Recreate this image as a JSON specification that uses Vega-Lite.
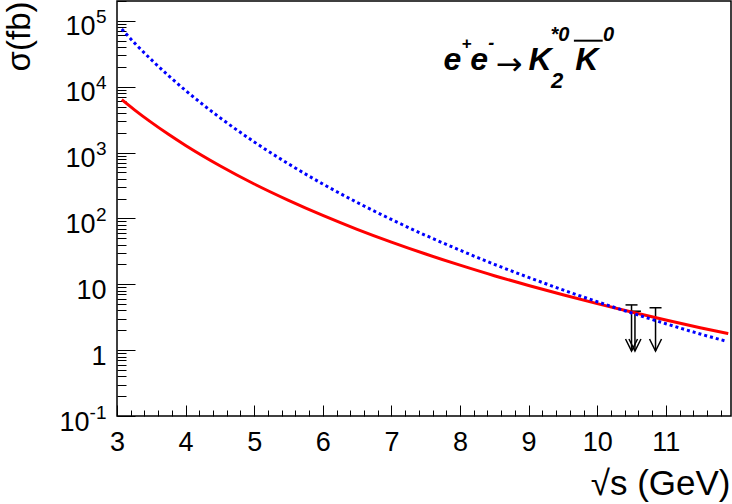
{
  "$schema": "https://vega.github.io/schema/vega-lite/v6.json",
  "width": 614,
  "height": 415,
  "autosize": {"type": "none"},
  "padding": {"left": 117, "top": 1, "right": 1, "bottom": 88},
  "background": "white",
  "config": {
    "view": {"stroke": "#000", "strokeWidth": 1.5},
    "font": "Liberation Sans",
    "axis": {"grid": false, "domain": false, "labelFont": "Liberation Sans", "titleFont": "Liberation Sans", "labelColor": "#000", "titleColor": "#000", "tickColor": "#000", "tickWidth": 1, "labelOverlap": false, "labelFlush": false, "labelBound": false, "zindex": 1, "titleFontWeight": "normal"}
  },
  "datasets": {
    "modelA": [
      {"E": 3.07, "sigma": 6350}, {"E": 3.25, "sigma": 4490}, {"E": 3.5, "sigma": 2870}, {"E": 3.75, "sigma": 1890},
      {"E": 4.0, "sigma": 1280}, {"E": 4.5, "sigma": 630}, {"E": 5.0, "sigma": 333}, {"E": 5.5, "sigma": 188},
      {"E": 6.0, "sigma": 111}, {"E": 6.5, "sigma": 68.4}, {"E": 7.0, "sigma": 43.7}, {"E": 7.5, "sigma": 28.8},
      {"E": 8.0, "sigma": 19.5}, {"E": 8.5, "sigma": 13.5}, {"E": 9.0, "sigma": 9.6}, {"E": 9.5, "sigma": 6.93},
      {"E": 10.0, "sigma": 5.09}, {"E": 10.5, "sigma": 3.79}, {"E": 11.0, "sigma": 2.86}, {"E": 11.5, "sigma": 2.19},
      {"E": 11.91, "sigma": 1.78}
    ],
    "modelB": [
      {"E": 3.07, "sigma": 75000}, {"E": 3.25, "sigma": 46700}, {"E": 3.5, "sigma": 25700}, {"E": 3.75, "sigma": 14700},
      {"E": 4.0, "sigma": 8750}, {"E": 4.5, "sigma": 3390}, {"E": 5.0, "sigma": 1450}, {"E": 5.5, "sigma": 673},
      {"E": 6.0, "sigma": 333}, {"E": 6.5, "sigma": 175}, {"E": 7.0, "sigma": 96.4}, {"E": 7.5, "sigma": 55.2},
      {"E": 8.0, "sigma": 32.9}, {"E": 8.5, "sigma": 20.1}, {"E": 9.0, "sigma": 12.7}, {"E": 9.5, "sigma": 8.22},
      {"E": 10.0, "sigma": 5.43}, {"E": 10.5, "sigma": 3.67}, {"E": 11.0, "sigma": 2.52}, {"E": 11.5, "sigma": 1.76},
      {"E": 11.89, "sigma": 1.36}
    ],
    "limits": [
      {"E": 10.5, "ul": 4.86, "low": 0.97},
      {"E": 10.55, "ul": 3.9, "low": 0.97},
      {"E": 10.85, "ul": 4.4, "low": 0.97}
    ],
    "one": [{}]
  },
  "layer": [
    {
      "data": {"name": "limits"},
      "mark": {"type": "rule", "color": "#000", "strokeWidth": 1.5},
      "encoding": {
        "x": {"field": "E", "type": "quantitative", "scale": {"domain": [3, 11.95], "nice": false, "zero": false},
          "axis": {"orient": "bottom", "labels": false, "tickSize": -6, "title": null,
            "values": [3.2,3.4,3.6,3.8,4.2,4.4,4.6,4.8,5.2,5.4,5.6,5.8,6.2,6.4,6.6,6.8,7.2,7.4,7.6,7.8,8.2,8.4,8.6,8.8,9.2,9.4,9.6,9.8,10.2,10.4,10.6,10.8,11.2,11.4,11.6,11.8]}},
        "y": {"field": "ul", "type": "quantitative", "scale": {"type": "log", "domain": [0.1, 200000], "nice": false},
          "axis": {"orient": "left", "values": [0.1], "ticks": false, "labelExpr": "'10'", "labelFontSize": 27, "labelPadding": 28, "labelOffset": 14, "labelBaseline": "alphabetic", "labelAlign": "right", "title": null}},
        "y2": {"field": "low"}
      }
    },
    {
      "data": {"name": "limits"},
      "mark": {"type": "tick", "orient": "horizontal", "color": "#000", "size": 12, "thickness": 1.5, "opacity": 1},
      "encoding": {
        "x": {"field": "E", "type": "quantitative", "scale": {"domain": [3, 11.95], "nice": false, "zero": false}, "axis": null},
        "y": {"field": "ul", "type": "quantitative", "scale": {"type": "log", "domain": [0.1, 200000], "nice": false},
          "axis": {"orient": "left", "values": [0.1, 100, 1000, 10000, 100000], "ticks": false,
            "labelExpr": "datum.value < 1 ? '-1' : datum.value < 500 ? '2' : datum.value < 5000 ? '3' : datum.value < 50000 ? '4' : '5'",
            "labelFontSize": 19, "labelPadding": 11, "labelOffset": 2, "labelBaseline": "alphabetic", "labelAlign": "right", "title": null}}
      }
    },
    {
      "data": {"name": "limits"},
      "mark": {"type": "point", "shape": "M-1,-2L0,0L1,-2", "size": 144, "filled": false, "stroke": "#000", "strokeWidth": 1.5, "opacity": 1},
      "encoding": {
        "x": {"field": "E", "type": "quantitative", "scale": {"domain": [3, 11.95], "nice": false, "zero": false}, "axis": null},
        "y": {"field": "low", "type": "quantitative", "scale": {"type": "log", "domain": [0.1, 200000], "nice": false},
          "axis": {"orient": "left", "labels": false, "tickSize": -18, "title": null, "values": [0.1, 1, 10, 100, 1000, 10000, 100000]}}
      }
    },
    {
      "data": {"name": "modelA"},
      "mark": {"type": "line", "color": "#ff0000", "strokeWidth": 3, "interpolate": "monotone"},
      "encoding": {
        "x": {"field": "E", "type": "quantitative", "scale": {"domain": [3, 11.95], "nice": false, "zero": false},
          "axis": {"orient": "bottom", "values": [3, 4, 5, 6, 7, 8, 9, 10, 11], "format": "d", "ticks": false, "labelFontSize": 27, "labelPadding": 34, "labelBaseline": "alphabetic", "labelAlign": "center",
            "title": "√s (GeV)", "titleFontSize": 35, "titleX": 613, "titleY": 78, "titleAlign": "right", "titleBaseline": "alphabetic"}},
        "y": {"field": "sigma", "type": "quantitative", "scale": {"type": "log", "domain": [0.1, 200000], "nice": false},
          "axis": {"orient": "left", "values": [1, 10], "format": "d", "ticks": false, "labelFontSize": 27, "labelPadding": 11, "labelOffset": 14, "labelBaseline": "alphabetic", "labelAlign": "right",
            "title": "σ(fb)", "titleFontSize": 33, "titleAngle": -90, "titleX": -88, "titleY": 0, "titleAlign": "right", "titleBaseline": "alphabetic"}}
      }
    },
    {
      "data": {"name": "modelB"},
      "mark": {"type": "line", "color": "#0000ff", "strokeWidth": 3, "strokeDash": [3, 3], "strokeCap": "butt", "interpolate": "monotone"},
      "encoding": {
        "x": {"field": "E", "type": "quantitative", "scale": {"domain": [3, 11.95], "nice": false, "zero": false},
          "axis": {"orient": "bottom", "values": [3, 4, 5, 6, 7, 8, 9, 10, 11], "labels": false, "tickSize": -11, "title": null}},
        "y": {"field": "sigma", "type": "quantitative", "scale": {"type": "log", "domain": [0.1, 200000], "nice": false},
          "axis": {"orient": "left", "values": [100, 1000, 10000, 100000], "ticks": false, "labelExpr": "'10'", "labelFontSize": 27, "labelPadding": 22, "labelOffset": 14, "labelBaseline": "alphabetic", "labelAlign": "right", "title": null}}
      }
    },
    {
      "data": {"name": "one"},
      "mark": {"type": "rule", "color": "#000", "strokeWidth": 2},
      "encoding": {
        "x": {"datum": 9.66, "type": "quantitative", "scale": {"domain": [3, 11.95], "nice": false, "zero": false}, "axis": null},
        "x2": {"datum": 10.08},
        "y": {"datum": 49940, "type": "quantitative", "scale": {"type": "log", "domain": [0.1, 200000], "nice": false},
          "axis": {"orient": "left", "labels": false, "tickSize": -9, "title": null,
            "values": [0.2,0.3,0.4,0.5,0.6,0.7,0.8,0.9,2,3,4,5,6,7,8,9,20,30,40,50,60,70,80,90,200,300,400,500,600,700,800,900,2000,3000,4000,5000,6000,7000,8000,9000,20000,30000,40000,50000,60000,70000,80000,90000,200000]}}
      }
    },
    {
      "data": {"name": "one"},
      "mark": {"type": "text", "text": "e", "font": "Liberation Sans", "fontSize": 32, "fontWeight": "bold", "fontStyle": "italic", "align": "left", "baseline": "alphabetic", "color": "#000"},
      "encoding": {
        "x": {"datum": 7.76, "type": "quantitative", "scale": {"domain": [3, 11.95], "nice": false, "zero": false}, "axis": null},
        "y": {"datum": 17900, "type": "quantitative", "scale": {"type": "log", "domain": [0.1, 200000], "nice": false}, "axis": null}
      }
    },
    {
      "data": {"name": "one"},
      "mark": {"type": "text", "text": "+", "font": "Liberation Sans", "fontSize": 17, "fontWeight": "bold", "fontStyle": "italic", "align": "left", "baseline": "alphabetic", "color": "#000"},
      "encoding": {
        "x": {"datum": 8.02, "type": "quantitative", "scale": {"domain": [3, 11.95], "nice": false, "zero": false}, "axis": null},
        "y": {"datum": 36700, "type": "quantitative", "scale": {"type": "log", "domain": [0.1, 200000], "nice": false}, "axis": null}
      }
    },
    {
      "data": {"name": "one"},
      "mark": {"type": "text", "text": "e", "font": "Liberation Sans", "fontSize": 32, "fontWeight": "bold", "fontStyle": "italic", "align": "left", "baseline": "alphabetic", "color": "#000"},
      "encoding": {
        "x": {"datum": 8.15, "type": "quantitative", "scale": {"domain": [3, 11.95], "nice": false, "zero": false}, "axis": null},
        "y": {"datum": 17900, "type": "quantitative", "scale": {"type": "log", "domain": [0.1, 200000], "nice": false}, "axis": null}
      }
    },
    {
      "data": {"name": "one"},
      "mark": {"type": "text", "text": "-", "font": "Liberation Sans", "fontSize": 18, "fontWeight": "bold", "fontStyle": "italic", "align": "left", "baseline": "alphabetic", "color": "#000"},
      "encoding": {
        "x": {"datum": 8.41, "type": "quantitative", "scale": {"domain": [3, 11.95], "nice": false, "zero": false}, "axis": null},
        "y": {"datum": 36700, "type": "quantitative", "scale": {"type": "log", "domain": [0.1, 200000], "nice": false}, "axis": null}
      }
    },
    {
      "data": {"name": "one"},
      "mark": {"type": "text", "text": "→", "font": "DejaVu Sans", "fontSize": 32, "align": "left", "baseline": "alphabetic", "color": "#000"},
      "encoding": {
        "x": {"datum": 8.52, "type": "quantitative", "scale": {"domain": [3, 11.95], "nice": false, "zero": false}, "axis": null},
        "y": {"datum": 15070, "type": "quantitative", "scale": {"type": "log", "domain": [0.1, 200000], "nice": false}, "axis": null}
      }
    },
    {
      "data": {"name": "one"},
      "mark": {"type": "text", "text": "K", "font": "Liberation Sans", "fontSize": 32, "fontWeight": "bold", "fontStyle": "italic", "align": "left", "baseline": "alphabetic", "color": "#000"},
      "encoding": {
        "x": {"datum": 9.0, "type": "quantitative", "scale": {"domain": [3, 11.95], "nice": false, "zero": false}, "axis": null},
        "y": {"datum": 17900, "type": "quantitative", "scale": {"type": "log", "domain": [0.1, 200000], "nice": false}, "axis": null}
      }
    },
    {
      "data": {"name": "one"},
      "mark": {"type": "text", "text": "*0", "font": "Liberation Sans", "fontSize": 20, "fontWeight": "bold", "fontStyle": "italic", "align": "left", "baseline": "alphabetic", "color": "#000"},
      "encoding": {
        "x": {"datum": 9.32, "type": "quantitative", "scale": {"domain": [3, 11.95], "nice": false, "zero": false}, "axis": null},
        "y": {"datum": 49420, "type": "quantitative", "scale": {"type": "log", "domain": [0.1, 200000], "nice": false}, "axis": null}
      }
    },
    {
      "data": {"name": "one"},
      "mark": {"type": "text", "text": "2", "font": "Liberation Sans", "fontSize": 22, "fontWeight": "bold", "fontStyle": "italic", "align": "left", "baseline": "alphabetic", "color": "#000"},
      "encoding": {
        "x": {"datum": 9.325, "type": "quantitative", "scale": {"domain": [3, 11.95], "nice": false, "zero": false}, "axis": null},
        "y": {"datum": 9557, "type": "quantitative", "scale": {"type": "log", "domain": [0.1, 200000], "nice": false}, "axis": null}
      }
    },
    {
      "data": {"name": "one"},
      "mark": {"type": "text", "text": "K", "font": "Liberation Sans", "fontSize": 32, "fontWeight": "bold", "fontStyle": "italic", "align": "left", "baseline": "alphabetic", "color": "#000"},
      "encoding": {
        "x": {"datum": 9.68, "type": "quantitative", "scale": {"domain": [3, 11.95], "nice": false, "zero": false}, "axis": null},
        "y": {"datum": 17900, "type": "quantitative", "scale": {"type": "log", "domain": [0.1, 200000], "nice": false}, "axis": null}
      }
    },
    {
      "data": {"name": "one"},
      "mark": {"type": "text", "text": "0", "font": "Liberation Sans", "fontSize": 20, "fontWeight": "bold", "fontStyle": "italic", "align": "left", "baseline": "alphabetic", "color": "#000"},
      "encoding": {
        "x": {"datum": 10.085, "type": "quantitative", "scale": {"domain": [3, 11.95], "nice": false, "zero": false}, "axis": null},
        "y": {"datum": 49420, "type": "quantitative", "scale": {"type": "log", "domain": [0.1, 200000], "nice": false}, "axis": null}
      }
    }
  ],
  "resolve": {"axis": {"x": "independent", "y": "independent"}}
}
